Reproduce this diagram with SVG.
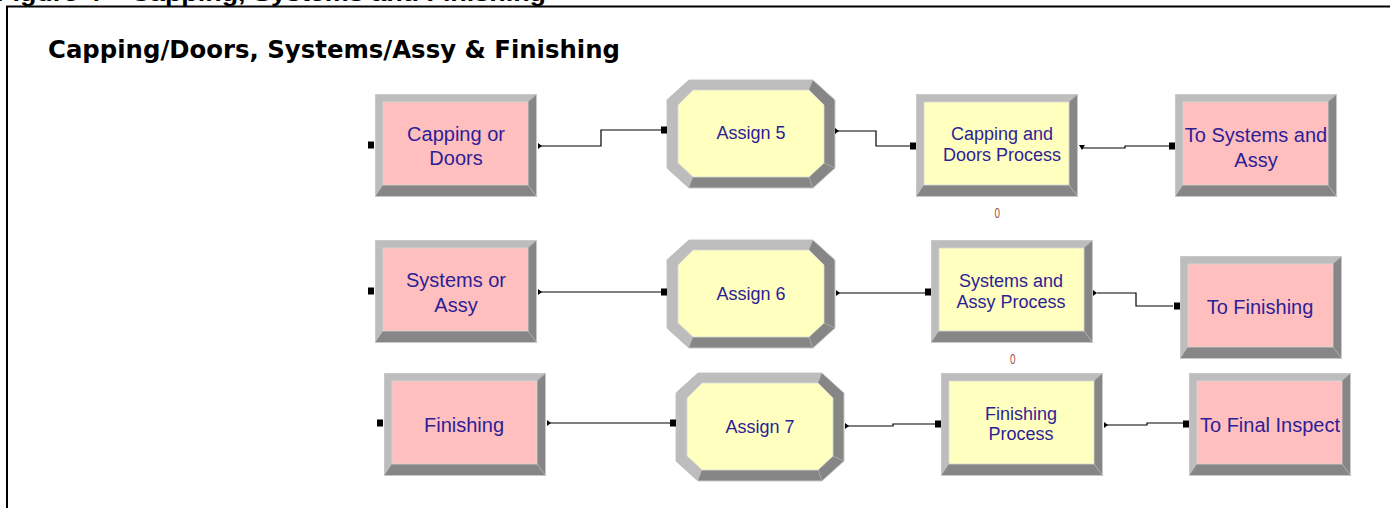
<svg xmlns="http://www.w3.org/2000/svg" xmlns:xlink="http://www.w3.org/1999/xlink" width="1390" height="508" viewBox="0 0 1390 508">
  <style>
    .caption { font-family: "Liberation Sans", Arial, sans-serif; font-weight: bold; font-size: 22px; fill: #000; }
    .title { font-family: "DejaVu Sans", Verdana, sans-serif; font-weight: bold; font-size: 25px; fill: #000; }
    .lbl { font-family: "Liberation Sans", Arial, sans-serif; font-size: 20px; fill: #2d1e96; text-anchor: middle; }
    .lbl-s { font-family: "Liberation Sans", Arial, sans-serif; font-size: 18px; fill: #2d1e96; text-anchor: middle; }
    .count { font-family: "Liberation Sans", Arial, sans-serif; font-size: 14px; fill: #a0503c; }
    .pink { color: #ffbfbf; }
    .yellow { color: #ffffc0; }
    .link { fill: none; stroke: #000; stroke-width: 1.2; }
    .port-in { fill: #000; }
    .port-out { fill: #000; }
  </style>
  <defs>
    <!-- bevelled rectangular module, 162 x 103 -->
    <g id="rect-module">
      <rect x="0" y="0" width="162" height="103" fill="#868686"/>
      <polygon points="0,0 162,0 153,8 8,8 8,91 0,103" fill="#bdbdbd"/>
      <line x1="153" y1="91" x2="162" y2="103" stroke="#b0b0b0" stroke-width="1"/>
      <line x1="153" y1="8" x2="162" y2="0" stroke="#a8a8a8" stroke-width="1"/>
      <rect x="8" y="8" width="145" height="83" fill="currentColor" stroke="#d8d8d8" stroke-width="0.8"/>
      <rect x="0.5" y="0.5" width="161" height="102" fill="none" stroke="#c8c8c8" stroke-width="1"/>
    </g>
    <!-- bevelled octagonal module, 168 x 108 -->
    <g id="oct-module">
      <polygon points="22,0 146,0 168,20 168,88 146,108 22,108 0,88 0,20" fill="#868686" stroke="#c8c8c8" stroke-width="1"/>
      <polygon points="146,0 22,0 0,20 0,88 22,108 26,97 11,83 11,25 26,10 142,10" fill="#bdbdbd"/>
      <line x1="142" y1="97" x2="146" y2="108" stroke="#a8a8a8" stroke-width="1"/>
      <line x1="157" y1="83" x2="168" y2="88" stroke="#a8a8a8" stroke-width="1"/>
      <polygon points="26,10 142,10 157,25 157,83 142,97 26,97 11,83 11,25" fill="currentColor" stroke="#d8d8d8" stroke-width="0.8"/>
    </g>
    <rect id="in-port" x="0" y="-3.5" width="6" height="7"/>
    <polygon id="out-port" points="0,-3 4,0 0,3"/>
  </defs>

  <rect x="0" y="0" width="1390" height="508" fill="#ffffff"/>

  <!-- page caption (cut by the top edge) and frame -->
  <text class="caption" x="-4" y="0.5" textLength="550" lengthAdjust="spacingAndGlyphs">Figure 4 – Capping, Systems and Finishing</text>
  <path d="M7,508 V6.5 H1390" fill="none" stroke="#000" stroke-width="2"/>

  <text class="title" x="48" y="58" textLength="572" lengthAdjust="spacingAndGlyphs">Capping/Doors, Systems/Assy &amp; Finishing</text>

  <!-- connectors -->
  <g id="connectors">
    <polyline class="link" points="541,146 601,146 601,130 662,130"/>
    <polyline class="link" points="838,131 876,131 876,146 912,146"/>
    <polyline class="link" points="1082,148 1125,148 1125,146 1170,146"/>
    <polyline class="link" points="541,292 662,292"/>
    <polyline class="link" points="839,293 926,293"/>
    <polyline class="link" points="1097,293 1136,293 1136,306 1173,306"/>
    <polyline class="link" points="550,423 670,423"/>
    <polyline class="link" points="848,426 893,426 893,424 935,424"/>
    <polyline class="link" points="1107,425 1147,425 1147,423 1183,423"/>
  </g>

  <!-- row 1 -->
  <g id="capping-or-doors">
    <use xlink:href="#rect-module" href="#rect-module" class="pink" transform="translate(375,94)"/>
    <use xlink:href="#in-port" href="#in-port" class="port-in" x="368" y="145"/>
    <use xlink:href="#out-port" href="#out-port" class="port-out" x="538" y="146"/>
    <text class="lbl" x="456" y="141">Capping or</text>
    <text class="lbl" x="456" y="165">Doors</text>
  </g>
  <g id="assign-5">
    <use xlink:href="#oct-module" href="#oct-module" class="yellow" transform="translate(667,80)"/>
    <use xlink:href="#in-port" href="#in-port" class="port-in" x="661" y="130"/>
    <use xlink:href="#out-port" href="#out-port" class="port-out" x="835" y="131"/>
    <text class="lbl-s" x="751" y="139">Assign 5</text>
  </g>
  <g id="capping-doors-process">
    <use xlink:href="#rect-module" href="#rect-module" class="yellow" transform="translate(916,94)"/>
    <use xlink:href="#in-port" href="#in-port" class="port-in" x="910" y="146"/>
    <polygon class="port-out" points="1079,145 1085,145 1082,150"/>
    <text class="lbl-s" x="1002" y="140">Capping and</text>
    <text class="lbl-s" x="1002" y="161">Doors Process</text>
    <text class="count" x="994.5" y="218" textLength="5.5" lengthAdjust="spacingAndGlyphs">0</text>
  </g>
  <g id="to-systems-and-assy">
    <use xlink:href="#rect-module" href="#rect-module" class="pink" transform="translate(1175,94)"/>
    <use xlink:href="#in-port" href="#in-port" class="port-in" x="1169" y="146"/>
    <text class="lbl" x="1256" y="142">To Systems and</text>
    <text class="lbl" x="1256" y="167">Assy</text>
  </g>

  <!-- row 2 -->
  <g id="systems-or-assy">
    <use xlink:href="#rect-module" href="#rect-module" class="pink" transform="translate(375,240)"/>
    <use xlink:href="#in-port" href="#in-port" class="port-in" x="368" y="291"/>
    <use xlink:href="#out-port" href="#out-port" class="port-out" x="538" y="292"/>
    <text class="lbl" x="456" y="287">Systems or</text>
    <text class="lbl" x="456" y="312">Assy</text>
  </g>
  <g id="assign-6">
    <use xlink:href="#oct-module" href="#oct-module" class="yellow" transform="translate(667,240)"/>
    <use xlink:href="#in-port" href="#in-port" class="port-in" x="661" y="292"/>
    <use xlink:href="#out-port" href="#out-port" class="port-out" x="836" y="293"/>
    <text class="lbl-s" x="751" y="300">Assign 6</text>
  </g>
  <g id="systems-assy-process">
    <use xlink:href="#rect-module" href="#rect-module" class="yellow" transform="translate(931,240)"/>
    <use xlink:href="#in-port" href="#in-port" class="port-in" x="925" y="292"/>
    <use xlink:href="#out-port" href="#out-port" class="port-out" x="1093" y="293"/>
    <text class="lbl-s" x="1011" y="287">Systems and</text>
    <text class="lbl-s" x="1011" y="308">Assy Process</text>
    <text class="count" x="1010" y="364" textLength="5.5" lengthAdjust="spacingAndGlyphs">0</text>
  </g>
  <g id="to-finishing">
    <use xlink:href="#rect-module" href="#rect-module" class="pink" transform="translate(1180,256)"/>
    <use xlink:href="#in-port" href="#in-port" class="port-in" x="1174" y="306"/>
    <text class="lbl" x="1260" y="314">To Finishing</text>
  </g>

  <!-- row 3 -->
  <g id="finishing">
    <use xlink:href="#rect-module" href="#rect-module" class="pink" transform="translate(384,373)"/>
    <use xlink:href="#in-port" href="#in-port" class="port-in" x="377" y="423"/>
    <use xlink:href="#out-port" href="#out-port" class="port-out" x="547" y="423"/>
    <text class="lbl" x="464" y="432">Finishing</text>
  </g>
  <g id="assign-7">
    <use xlink:href="#oct-module" href="#oct-module" class="yellow" transform="translate(676,373)"/>
    <use xlink:href="#in-port" href="#in-port" class="port-in" x="670" y="423"/>
    <use xlink:href="#out-port" href="#out-port" class="port-out" x="845" y="426"/>
    <text class="lbl-s" x="760" y="433">Assign 7</text>
  </g>
  <g id="finishing-process">
    <use xlink:href="#rect-module" href="#rect-module" class="yellow" transform="translate(941,373)"/>
    <use xlink:href="#in-port" href="#in-port" class="port-in" x="935" y="424"/>
    <use xlink:href="#out-port" href="#out-port" class="port-out" x="1104" y="425"/>
    <text class="lbl-s" x="1021" y="420">Finishing</text>
    <text class="lbl-s" x="1021" y="440">Process</text>
  </g>
  <g id="to-final-inspect">
    <use xlink:href="#rect-module" href="#rect-module" class="pink" transform="translate(1189,373)"/>
    <use xlink:href="#in-port" href="#in-port" class="port-in" x="1183" y="424"/>
    <text class="lbl" x="1270" y="432">To Final Inspect</text>
  </g>
</svg>
